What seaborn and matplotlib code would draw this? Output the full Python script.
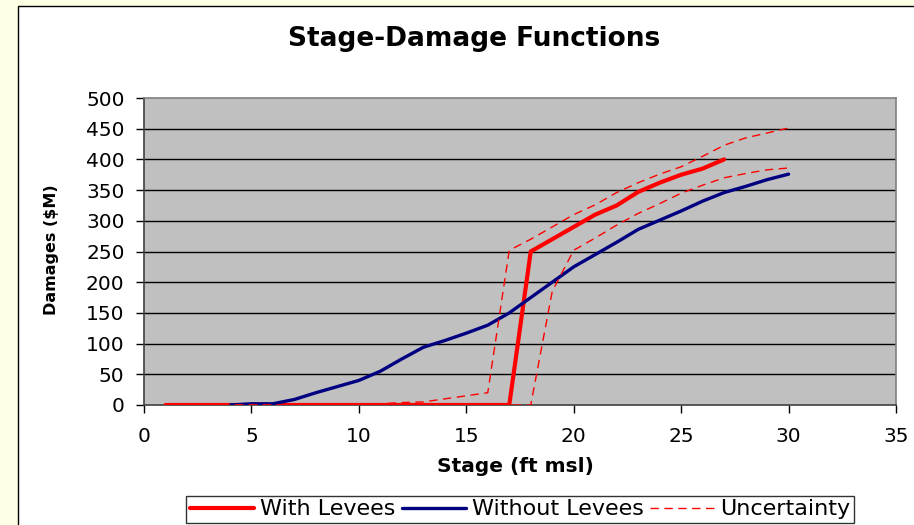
import matplotlib
matplotlib.use("Agg")
import matplotlib.pyplot as plt
from matplotlib.patches import Rectangle
import seaborn as sns
import pandas as pd

# Stage (ft msl) and damages ($M)
stage_with = [1, 2, 3, 4, 5, 6, 7, 8, 9, 10, 11, 12, 13, 14, 15, 16, 17,
              18, 19, 20, 21, 22, 23, 24, 25, 26, 27]
damage_with = [0, 0, 0, 0, 0, 0, 0, 0, 0, 0, 0, 0, 0, 0, 0, 0, 0,
               250, 270, 290, 310, 325, 347, 362, 375, 385, 400]

stage_without = [4, 5, 6, 7, 8, 9, 10, 11, 12, 13, 14, 15, 16, 17, 18, 19, 20,
                 21, 22, 23, 24, 25, 26, 27, 28, 29, 30]
damage_without = [0, 2, 2, 9, 20, 30, 40, 55, 75, 94, 105, 117, 130, 150, 175,
                  200, 225, 245, 265, 286, 301, 316, 332, 346, 356, 367, 376]

stage_upper = [1, 2, 3, 4, 5, 6, 7, 8, 9, 10, 11, 12, 13, 14, 15, 16, 17, 18,
               19, 20, 21, 22, 23, 24, 25, 26, 27, 28, 29, 30]
damage_upper = [0, 0, 0, 0, 0, 0, 0, 0, 0, 0, 2, 4, 5, 10, 15, 20, 252, 270,
                290, 310, 326, 346, 362, 376, 388, 405, 423, 435, 443, 451]

stage_lower = [1, 2, 3, 4, 5, 6, 7, 8, 9, 10, 11, 12, 13, 14, 15, 16, 17, 18,
               19, 20, 21, 22, 23, 24, 25, 26, 27, 28, 29, 30]
damage_lower = [0, 0, 0, 0, 0, 0, 0, 0, 0, 0, 0, 0, 0, 0, 0, 0, 0, 0,
                185, 252, 272, 293, 312, 328, 345, 358, 370, 377, 383, 386]

x_ticks = [0, 5, 10, 15, 20, 25, 30, 35]
y_ticks = [0, 50, 100, 150, 200, 250, 300, 350, 400, 450, 500]

sns.set_theme(style="white")
plt.rcParams["font.family"] = ["DejaVu Sans"]
plt.rcParams["text.color"] = "black"
plt.rcParams["axes.labelcolor"] = "black"
plt.rcParams["xtick.color"] = "black"
plt.rcParams["ytick.color"] = "black"

W, H = 914, 525
fig = plt.figure(figsize=(W / 100, H / 100), dpi=100)
fig.patch.set_facecolor("#FFFFE5")

# white chart frame
fig.patches.append(Rectangle((18 / W, -0.1), 1.0, 1 - 6 / H + 0.1,
                             transform=fig.transFigure, facecolor="white",
                             edgecolor="black", linewidth=1.0, zorder=-1))

ax = fig.add_axes([144 / W, 1 - 405 / H, (896 - 144) / W, (405 - 98) / H])
ax.set_facecolor("#C0C0C0")

df_with = pd.DataFrame({"stage": stage_with, "damage": damage_with})
df_without = pd.DataFrame({"stage": stage_without, "damage": damage_without})
df_upper = pd.DataFrame({"stage": stage_upper, "damage": damage_upper})
df_lower = pd.DataFrame({"stage": stage_lower, "damage": damage_lower})

for yv in y_ticks[1:-1]:
    ax.axhline(yv, color="black", linewidth=1.0, zorder=1)

sns.lineplot(data=df_with, x="stage", y="damage", ax=ax, color="#FF0000",
             linewidth=3.0, label="With Levees", zorder=3)
sns.lineplot(data=df_without, x="stage", y="damage", ax=ax, color="#000080",
             linewidth=2.4, label="Without Levees", zorder=4)
sns.lineplot(data=df_upper, x="stage", y="damage", ax=ax, color="#FF0000",
             linewidth=1.0, linestyle=(0, (6, 4)), label="Uncertainty", zorder=5)
sns.lineplot(data=df_lower, x="stage", y="damage", ax=ax, color="#FF0000",
             linewidth=1.0, linestyle=(0, (6, 4)), label="_nolegend_", zorder=5)

ax.set_xlim(0, 35)
ax.set_ylim(0, 500)
ax.set_xticks(x_ticks)
ax.set_yticks(y_ticks)
ax.tick_params(axis="both", which="major", labelsize=14.5, colors="black",
               direction="out", length=6, width=1.0, left=True, bottom=True)
ax.tick_params(axis="y", pad=8)
ax.tick_params(axis="x", pad=10)

for side in ["top", "right"]:
    ax.spines[side].set_color("#808080")
    ax.spines[side].set_linewidth(1.2)
for side in ["left", "bottom"]:
    ax.spines[side].set_color("#404040")
    ax.spines[side].set_linewidth(1.2)

ax.set_xlabel("")
ax.set_ylabel("")
fig.text(515 / W, 1 - 466 / H, "Stage (ft msl)", ha="center", va="center",
         fontsize=14.5, fontweight="bold")
fig.text(52 / W, 1 - 250 / H, "Damages ($M)", ha="center", va="center",
         rotation=90, fontsize=11.5, fontweight="bold")
fig.text(474 / W, 1 - 39 / H, "Stage-Damage Functions", ha="center",
         va="center", fontsize=19, fontweight="bold")

handles, labels = ax.get_legend_handles_labels()
ax.get_legend().remove()
leg = fig.legend(handles, labels, loc="upper center",
                 bbox_to_anchor=(520 / W, 1 - 496 / H), ncol=3, fontsize=16,
                 frameon=True, fancybox=False, shadow=False,
                 handlelength=2.9, handletextpad=0.25, columnspacing=0.3,
                 borderpad=0.15, borderaxespad=0.0)
leg.get_frame().set_edgecolor("black")
leg.get_frame().set_linewidth(1.0)
leg.get_frame().set_facecolor("white")

fig.savefig("out.png", dpi=100, facecolor=fig.get_facecolor())
